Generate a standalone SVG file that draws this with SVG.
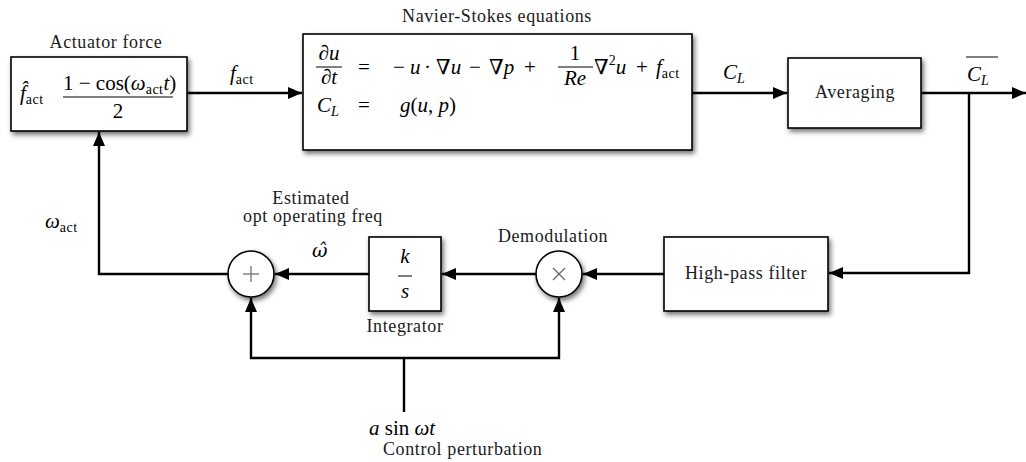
<svg xmlns="http://www.w3.org/2000/svg" width="1026" height="462" viewBox="0 0 1026 462">
<defs>
<filter id="sh" x="-20%" y="-20%" width="150%" height="160%">
<feDropShadow dx="2" dy="3" stdDeviation="2.5" flood-color="#000" flood-opacity="0.55"/>
</filter>
<marker id="ah" markerUnits="userSpaceOnUse" markerWidth="14" markerHeight="12" refX="14" refY="6" orient="auto">
<path d="M0,0 L14,6 L0,12 z" fill="#000"/>
</marker>
</defs>
<style>
.box{fill:#fff;stroke:#000;stroke-width:1.6}
.con{fill:none;stroke:#000;stroke-width:2.4}
.lbl{font-family:"Liberation Serif","DejaVu Serif",serif;font-size:18px;letter-spacing:0.6px;fill:#1a1a1a}
.m{font-family:"Liberation Serif","DejaVu Serif",serif;font-size:21px;fill:#000}
.i{font-style:italic}
.sub{font-size:14px;font-style:normal;letter-spacing:0.5px}
.subi{font-size:14px;font-style:italic}
.bar{stroke:#000;stroke-width:1}
.op{stroke:#666;stroke-width:1.2}
</style>

<g id="actuator">
<rect class="box" x="11" y="57" width="176" height="74" filter="url(#sh)"/>
<text class="lbl" x="106" y="48" text-anchor="middle">Actuator force</text>
<text class="m i" x="20" y="100">f̂<tspan class="sub" dy="4">act</tspan></text>
<text class="m" x="63" y="90">1 − cos(<tspan class="i">ω</tspan><tspan class="sub" dy="4">act</tspan><tspan class="i" dy="-4">t</tspan>)</text>
<line class="bar" x1="63" y1="97" x2="173" y2="97"/>
<text class="m" x="118" y="118" text-anchor="middle">2</text>
</g>

<g id="navier-stokes">
<rect class="box" x="303" y="34" width="389" height="116" filter="url(#sh)"/>
<text class="lbl" x="497" y="22" text-anchor="middle">Navier-Stokes equations</text>
<text class="m i" x="329" y="60" text-anchor="middle">∂u</text>
<line class="bar" x1="316" y1="67" x2="342" y2="67"/>
<text class="m i" x="329" y="84" text-anchor="middle">∂t</text>
<text class="m" x="364" y="74" text-anchor="middle">=</text>
<text class="m" x="393" y="74">−</text>
<text class="m i" x="410" y="74">u</text>
<text class="m" x="424" y="74">·</text>
<text class="m" x="436" y="74">∇<tspan class="i">u</tspan></text>
<text class="m" x="469" y="74">−</text>
<text class="m" x="489" y="74">∇<tspan class="i">p</tspan></text>
<text class="m" x="524" y="74">+</text>
<text class="m" x="575" y="60" text-anchor="middle">1</text>
<line class="bar" x1="558" y1="67" x2="593" y2="67"/>
<text class="m i" x="575" y="85" text-anchor="middle">Re</text>
<text class="m" x="594" y="74">∇<tspan font-size="14" dy="-9">2</tspan><tspan class="i" dy="9">u</tspan></text>
<text class="m" x="636" y="74">+</text>
<text class="m i" x="656" y="74">f<tspan class="sub" dy="4">act</tspan></text>
<text class="m i" x="317" y="112">C<tspan class="subi" dy="4">L</tspan></text>
<text class="m" x="364" y="112" text-anchor="middle">=</text>
<text class="m" x="400" y="112"><tspan class="i">g</tspan>(<tspan class="i">u</tspan>, <tspan class="i">p</tspan>)</text>
</g>

<g id="averaging">
<rect class="box" x="788" y="58" width="133" height="70" filter="url(#sh)"/>
<text class="lbl" x="855" y="98" text-anchor="middle">Averaging</text>
</g>

<g id="highpass">
<rect class="box" x="664" y="237" width="164" height="74" filter="url(#sh)"/>
<text class="lbl" x="746" y="279" text-anchor="middle">High-pass filter</text>
</g>

<g id="integrator">
<rect class="box" x="369" y="237" width="72" height="74" filter="url(#sh)"/>
<text class="m i" x="405" y="263" text-anchor="middle">k</text>
<line class="bar" x1="398" y1="276" x2="412" y2="276"/>
<text class="m i" x="405" y="298" text-anchor="middle">s</text>
<text class="lbl" x="405" y="332" text-anchor="middle">Integrator</text>
</g>

<g id="demodulation">
<circle class="box" cx="559" cy="274" r="23" filter="url(#sh)"/>
<line class="op" x1="553" y1="268" x2="565" y2="280"/>
<line class="op" x1="565" y1="268" x2="553" y2="280"/>
<text class="lbl" x="553" y="242" text-anchor="middle">Demodulation</text>
</g>

<g id="sum">
<circle class="box" cx="251" cy="274" r="23" filter="url(#sh)"/>
<line class="op" x1="243" y1="274" x2="259" y2="274"/>
<line class="op" x1="251" y1="266" x2="251" y2="282"/>
<text class="lbl" x="311" y="204" text-anchor="middle">Estimated</text>
<text class="lbl" x="313" y="222" text-anchor="middle">opt operating freq</text>
</g>

<g id="perturbation">
<text class="m" x="369" y="435" font-size="23"><tspan class="i">a</tspan> sin <tspan class="i">ωt</tspan></text>
<text class="lbl" x="383" y="455">Control perturbation</text>
</g>

<g id="connectors">
<path class="con" d="M187,93 H302" marker-end="url(#ah)"/>
<path class="con" d="M692,93 H787" marker-end="url(#ah)"/>
<path class="con" d="M921,93 H1026" marker-end="url(#ah)"/>
<path class="con" d="M969,93 V273 H829" marker-end="url(#ah)"/>
<path class="con" d="M664,274 H583" marker-end="url(#ah)"/>
<path class="con" d="M536,274 H442" marker-end="url(#ah)"/>
<path class="con" d="M369,274 H275" marker-end="url(#ah)"/>
<path class="con" d="M228,274 H99 V132" marker-end="url(#ah)"/>
<path class="con" d="M404,412 V358"/>
<path class="con" d="M404,358 H251 V298" marker-end="url(#ah)"/>
<path class="con" d="M404,358 H559 V298" marker-end="url(#ah)"/>
</g>

<g id="labels">
<text class="m i" x="230" y="80">f<tspan class="sub" dy="4">act</tspan></text>
<text class="m i" x="723" y="79">C<tspan class="subi" dy="4">L</tspan></text>
<text class="m i" x="967" y="81">C<tspan class="subi" dy="4">L</tspan></text>
<line x1="966" y1="57" x2="998" y2="57" stroke="#000" stroke-width="1"/>
<text class="m i" x="45" y="228">ω<tspan class="sub" dy="4">act</tspan></text>
<text class="m i" x="312" y="257" style="font-family:'DejaVu Serif',serif;font-size:19px">ω̂</text>
</g>
</svg>
